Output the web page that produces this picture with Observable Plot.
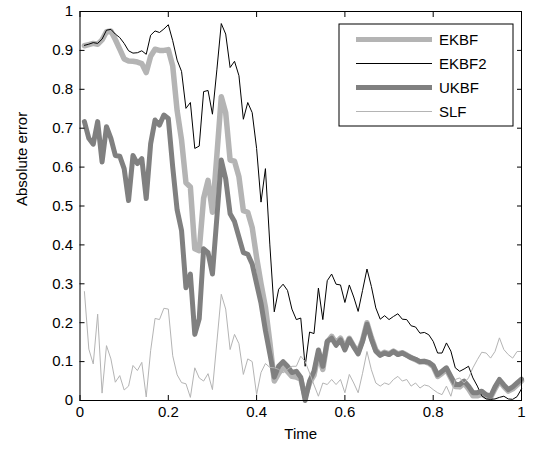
<!DOCTYPE html>
<html><head><meta charset="utf-8">
<script src="https://cdn.jsdelivr.net/npm/d3@7"></script>
<script src="https://cdn.jsdelivr.net/npm/@observablehq/plot@0.6"></script>
<style>body{margin:0;background:#fff}#chart{width:534px;height:458px}</style>
</head><body><div id="chart"></div>
<script>
const time = [0.01,0.02,0.03,0.04,0.05,0.06,0.07,0.08,0.09,0.10,0.11,0.12,0.13,0.14,0.15,0.16,0.17,0.18,0.19,0.20,
0.21,0.22,0.23,0.24,0.25,0.26,0.27,0.28,0.29,0.30,0.31,0.32,0.33,0.34,0.35,0.36,0.37,0.38,0.39,0.40,
0.41,0.42,0.43,0.44,0.45,0.46,0.47,0.48,0.49,0.50,0.51,0.52,0.53,0.54,0.55,0.56,0.57,0.58,0.59,0.60,
0.61,0.62,0.63,0.64,0.65,0.66,0.67,0.68,0.69,0.70,0.71,0.72,0.73,0.74,0.75,0.76,0.77,0.78,0.79,0.80,
0.81,0.82,0.83,0.84,0.85,0.86,0.87,0.88,0.89,0.90,0.91,0.92,0.93,0.94,0.95,0.96,0.97,0.98,0.99,1.00];

const ekbf = [0.912,0.915,0.918,0.916,0.927,0.948,0.950,0.928,0.903,0.878,
0.873,0.872,0.870,0.866,0.843,0.885,0.903,0.900,0.900,0.902,
0.860,0.745,0.670,0.560,0.549,0.390,0.385,0.520,0.566,0.484,
0.630,0.781,0.740,0.618,0.615,0.575,0.488,0.484,0.445,0.368,
0.300,0.240,0.150,0.050,0.070,0.085,0.075,0.062,0.060,0.055,
0.010,0.045,0.065,0.120,0.080,0.150,0.165,0.148,0.160,0.135,
0.160,0.140,0.125,0.155,0.200,0.162,0.130,0.118,0.124,0.120,
0.127,0.120,0.123,0.117,0.110,0.105,0.099,0.100,0.096,0.087,
0.062,0.070,0.080,0.058,0.036,0.035,0.045,0.030,0.012,0.012,
0.016,0.010,0.008,0.030,0.050,0.036,0.024,0.030,0.040,0.050];

const ekbf2 = [0.913,0.916,0.920,0.918,0.929,0.952,0.954,0.942,0.933,0.918,
0.899,0.893,0.894,0.899,0.890,0.939,0.950,0.946,0.955,0.966,
0.925,0.875,0.846,0.751,0.766,0.648,0.654,0.794,0.797,0.736,
0.850,0.969,0.942,0.856,0.872,0.835,0.723,0.766,0.740,0.648,
0.510,0.596,0.400,0.228,0.286,0.299,0.283,0.235,0.208,0.212,
0.088,0.176,0.172,0.289,0.208,0.308,0.325,0.299,0.297,0.252,
0.297,0.266,0.229,0.283,0.338,0.293,0.238,0.209,0.218,0.208,
0.216,0.223,0.209,0.208,0.192,0.189,0.173,0.175,0.169,0.152,
0.122,0.122,0.148,0.127,0.084,0.075,0.081,0.088,0.058,0.037,
0.012,0.004,0.003,0.004,0.008,0.011,0.004,0.003,0.010,0.030];

const ukbf = [0.717,0.674,0.659,0.717,0.613,0.704,0.674,0.630,0.628,0.596,
0.514,0.630,0.609,0.622,0.519,0.660,0.721,0.708,0.734,0.725,
0.600,0.490,0.437,0.290,0.325,0.170,0.210,0.390,0.380,0.325,
0.470,0.618,0.570,0.480,0.460,0.420,0.380,0.376,0.351,0.300,
0.250,0.180,0.120,0.060,0.088,0.100,0.088,0.072,0.075,0.060,
0.000,0.050,0.075,0.130,0.088,0.152,0.160,0.142,0.156,0.130,
0.158,0.138,0.120,0.152,0.196,0.158,0.127,0.116,0.122,0.118,
0.126,0.118,0.122,0.116,0.110,0.106,0.100,0.101,0.098,0.090,
0.066,0.075,0.084,0.062,0.041,0.041,0.050,0.037,0.020,0.020,
0.024,0.015,0.011,0.035,0.054,0.040,0.028,0.035,0.045,0.055];

const slf = [0.280,0.132,0.094,0.222,0.019,0.141,0.107,0.047,0.064,0.027,
0.037,0.090,0.077,0.098,0.009,0.128,0.211,0.208,0.237,0.235,
0.115,0.066,0.046,0.043,0.008,0.084,0.058,0.050,0.069,0.028,
0.150,0.273,0.235,0.131,0.170,0.146,0.067,0.107,0.100,0.015,
0.072,0.095,0.085,0.084,0.080,0.071,0.080,0.088,0.088,0.114,
0.100,0.071,0.040,0.011,0.045,0.041,0.054,0.041,0.054,0.020,
0.067,0.045,0.020,0.070,0.126,0.079,0.045,0.037,0.045,0.041,
0.054,0.062,0.050,0.054,0.037,0.045,0.032,0.040,0.037,0.028,
0.020,0.015,0.037,0.011,0.054,0.058,0.045,0.058,0.084,0.105,
0.124,0.122,0.109,0.126,0.161,0.131,0.118,0.109,0.126,0.126];

const seriesNames = ["EKBF", "EKBF2", "UKBF", "SLF"];
const seriesValues = [ekbf, ekbf2, ukbf, slf];
const seriesColors = ["#b4b4b4", "#000000", "#808080", "#b4b4b4"];
const seriesWidths = [5.5, 1, 5, 1];

const xTicks = [0, 0.2, 0.4, 0.6, 0.8, 1];
const yTicks = [0, 0.1, 0.2, 0.3, 0.4, 0.5, 0.6, 0.7, 0.8, 0.9, 1];

const lineMarks = seriesNames.map((name, k) =>
  Plot.line(time.map((t, i) => ({t, v: seriesValues[k][i]})), {
    x: "t", y: "v", stroke: seriesColors[k], strokeWidth: seriesWidths[k],
    strokeLinejoin: "round", strokeLinecap: "round"
  })
);

const font = "'Liberation Sans', Arial, Helvetica, sans-serif";
const W = 534, H = 458, mL = 79.5, mR = 13, mT = 11, mB = 58;

const plot = Plot.plot({
  width: W, height: H,
  marginLeft: mL, marginRight: mR, marginTop: mT, marginBottom: mB,
  style: {fontFamily: font, fontSize: "15px", color: "#000", background: "#fff", overflow: "visible"},
  x: {domain: [0, 1]},
  y: {domain: [0, 1]},
  marks: [
    ...lineMarks,
    Plot.frame({stroke: "#000", strokeWidth: 1}),
    Plot.axisX({ticks: xTicks, anchor: "bottom", tickSize: -5, tickPadding: 11, tickFormat: d => String(d), label: null}),
    Plot.axisX({ticks: xTicks, anchor: "top", tickSize: -5, tickFormat: () => "", label: null}),
    Plot.axisY({ticks: yTicks, anchor: "left", tickSize: -5, tickPadding: 12, tickFormat: d => String(d), label: null}),
    Plot.axisY({ticks: yTicks, anchor: "right", tickSize: -5, tickFormat: () => "", label: null}),
    Plot.text(["Time"], {frameAnchor: "bottom", dy: 38, text: d => d, fontSize: 15}),
    Plot.text(["Absolute error"], {frameAnchor: "left", dx: -58, rotate: -90, text: d => d, fontSize: 15})
  ]
});

// legend inside the plot, top-right
const svg = d3.select(plot);
const lg = svg.append("g").attr("font-family", font).attr("font-size", 15).attr("text-anchor", "start");
const boxRight = W - mR - 8, boxLeft = 339, boxTop = 24, boxBottom = 126;
lg.append("rect").attr("x", boxLeft).attr("y", boxTop)
  .attr("width", boxRight - boxLeft).attr("height", boxBottom - boxTop)
  .attr("fill", "#fff").attr("stroke", "#000").attr("stroke-width", 1);
seriesNames.forEach((name, k) => {
  const yy = 39.5 + k * 24;
  lg.append("line").attr("x1", 356).attr("x2", 432).attr("y1", yy).attr("y2", yy)
    .attr("stroke", seriesColors[k]).attr("stroke-width", seriesWidths[k] > 2 ? 5 : 1);
  lg.append("text").attr("x", 439).attr("y", yy).attr("dy", "0.36em")
    .attr("text-anchor", "start").attr("fill", "#000").text(name);
});

document.getElementById("chart").appendChild(plot);
</script>
</body></html>
